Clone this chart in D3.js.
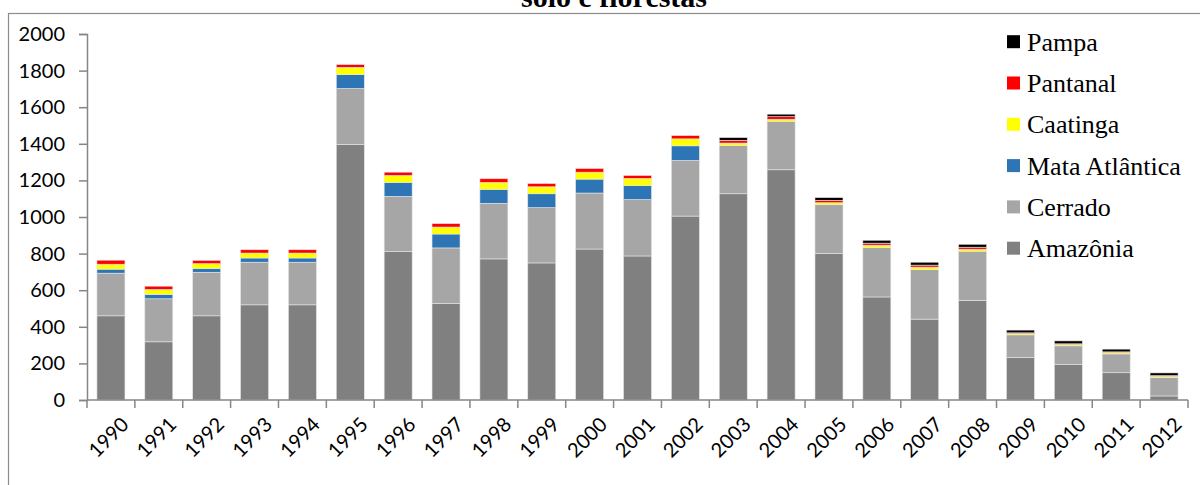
<!DOCTYPE html>
<html>
<head>
<meta charset="utf-8">
<script src="https://cdn.jsdelivr.net/npm/d3@7/dist/d3.min.js"></script>
<style>
  html, body { margin: 0; padding: 0; background: #fff; }
  svg { display: block; }
</style>
</head>
<body>
<svg id="chart" width="1200" height="485"></svg>
<script>
// Desmatamento anual por bioma (km²), 1990–2012
const years = ["1990","1991","1992","1993","1994","1995","1996","1997","1998","1999","2000","2001",
               "2002","2003","2004","2005","2006","2007","2008","2009","2010","2011","2012"];
const amazonia = [460,318,460,520,520,1396,811,527,771,749,825,787,1005,1127,1258,800,563,442,545,233,193,149,22];
const cerrado  = [233,235,238,233,233,306,302,304,304,302,306,308,304,264,265,267,270,271,268,123,103,103,100];
const mataAtlantica = [22,24,20,23,23,76,76,76,76,76,76,76,80,0,0,0,0,0,0,0,0,0,0];
const caatinga = [27,27,27,27,27,40,38,38,38,38,38,40,38,13,11,11,13,13,11,7,8,8,8];
const pantanal = [22,18,18,18,18,15,18,19,20,18,20,16,18,15,14,13,11,11,11,4,3,3,3];
const pampa    = [0,0,0,0,0,0,0,0,0,0,0,0,0,15,14,15,16,16,16,15,16,15,15];
const yTicks = [0,200,400,600,800,1000,1200,1400,1600,1800,2000];
const seriesNames = ["Amazônia","Cerrado","Mata Atlântica","Caatinga","Pantanal","Pampa"];
const seriesColors = ["#808080","#a6a6a6","#2e75b6","#ffff00","#ff0000","#000000"];
const titleText = "solo e florestas";

const rows = years.map((y, i) => ({
  year: y,
  "Amazônia": amazonia[i],
  "Cerrado": cerrado[i],
  "Mata Atlântica": mataAtlantica[i],
  "Caatinga": caatinga[i],
  "Pantanal": pantanal[i],
  "Pampa": pampa[i]
}));

const svg = d3.select("#chart");

// outer chart frame
svg.append("rect")
  .attr("x", 8.5).attr("y", 13.5)
  .attr("width", 1200).attr("height", 500)
  .attr("fill", "none").attr("stroke", "#8c8c8c").attr("stroke-width", 1.2);

// title (its last line sits at the top edge)
svg.append("text")
  .attr("x", 614).attr("y", 6.5)
  .attr("text-anchor", "middle")
  .attr("font-family", "Liberation Serif, Times New Roman, serif")
  .attr("font-weight", "bold")
  .attr("font-size", 30)
  .text(titleText);

const x = d3.scaleBand().domain(years).range([87, 1188]).paddingInner(0.415).paddingOuter(0.2075);
const y = d3.scaleLinear().domain([0, 2000]).range([400, 34]);

const color = d3.scaleOrdinal().domain(seriesNames).range(seriesColors);
const stack = d3.stack().keys(seriesNames);
const layers = stack(rows);

const gBars = svg.append("g");
gBars.selectAll("g.layer")
  .data(layers)
  .join("g")
  .attr("class", "layer")
  .attr("fill", d => color(d.key))
  .selectAll("rect")
  .data(d => d.filter(s => s[1] - s[0] > 0))
  .join("rect")
  .attr("x", d => x(d.data.year))
  .attr("width", x.bandwidth())
  .attr("y", d => y(d[1]))
  .attr("height", d => y(d[0]) - y(d[1]))
  .attr("stroke", "#e6e6e6")
  .attr("stroke-width", 0.6);

// y axis
const yAxis = d3.axisLeft(y).tickValues(yTicks).tickSize(8).tickPadding(14).tickFormat(d3.format("d"));
const gy = svg.append("g").attr("transform", "translate(87,0)").call(yAxis);
gy.select(".domain").attr("stroke", "#868686").attr("stroke-width", 1.5);
gy.selectAll(".tick line").attr("stroke", "#868686").attr("stroke-width", 1.5);
gy.selectAll(".tick text")
  .attr("font-family", "Lato, Carlito, Calibri, sans-serif")
  .attr("font-size", 20).attr("fill", "#000");

// x axis: baseline with ticks at category boundaries
const gx = svg.append("g");
gx.append("line")
  .attr("x1", 87).attr("x2", 1188).attr("y1", y(0)).attr("y2", y(0))
  .attr("stroke", "#868686").attr("stroke-width", 1.5);
const boundaries = years.map(yr => x(yr) - x.step() * x.paddingInner() / 2).concat([1188]);
gx.selectAll("line.tk").data(boundaries).join("line")
  .attr("class", "tk")
  .attr("x1", d => d).attr("x2", d => d)
  .attr("y1", y(0)).attr("y2", y(0) + 8)
  .attr("stroke", "#868686").attr("stroke-width", 1.5);
gx.selectAll("text").data(years).join("text")
  .attr("transform", d => `translate(${x(d) + x.bandwidth() / 2 + 9},${y(0) + 16}) rotate(-45)`)
  .attr("text-anchor", "end")
  .attr("dy", "0.7em")
  .attr("font-family", "Lato, Carlito, Calibri, sans-serif")
  .attr("font-size", 20)
  .attr("fill", "#000")
  .text(d => d);

// legend, top entry is the last stacked series
const legendItems = seriesNames.slice().reverse();
const lg = svg.append("g");
legendItems.forEach((name, i) => {
  const cy = 41.7 + i * 41.3;
  lg.append("rect")
    .attr("x", 1007).attr("y", cy - 6.5)
    .attr("width", 13).attr("height", 13)
    .attr("fill", color(name));
  lg.append("text")
    .attr("x", 1027).attr("y", cy + 9)
    .attr("font-family", "Liberation Serif, Times New Roman, serif")
    .attr("font-size", 26)
    .attr("fill", "#000")
    .text(name);
});
</script>
</body>
</html>
